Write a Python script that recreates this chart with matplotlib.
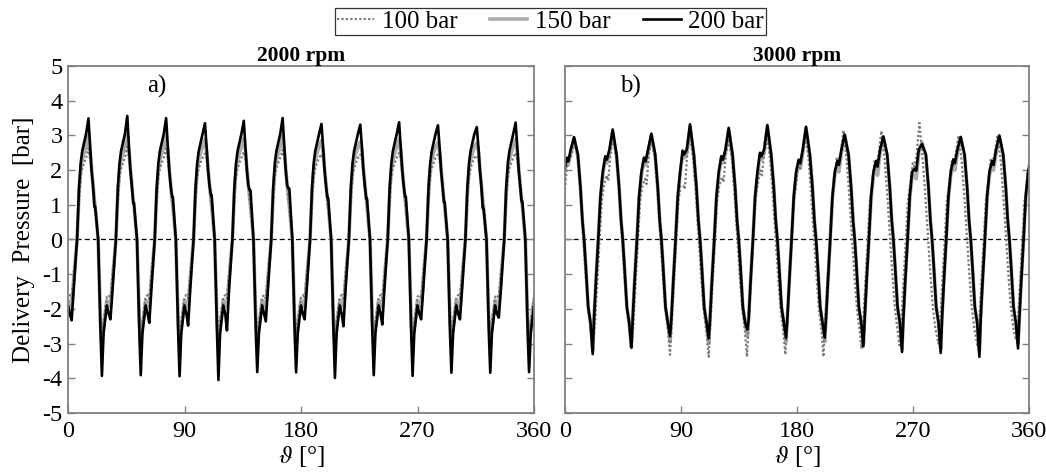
import numpy as np
import matplotlib
matplotlib.use('Agg')
import matplotlib.pyplot as plt
from matplotlib.lines import Line2D

plt.rcParams['font.family'] = ['Liberation Serif', 'DejaVu Serif']
plt.rcParams['mathtext.fontset'] = 'stix'
plt.rcParams['axes.unicode_minus'] = False

# ---------------------------------------------------------------
# a) 2000 rpm : one entry per pumping cycle (cycle starts at rising zero crossing)
# ---------------------------------------------------------------
A_START = [-23, 7, 37, 67, 97, 127, 157, 187, 217, 247, 277, 307, 337]
A_OFFS = [0, 1.5, 2.8, 4.0, 5.5, 7.0, 8.8, 10.2, 11.2, 12.3, 13.4, 14.0,
          16.3, 18.2, 19.2, 20.5, 23.0, 24.5, 25.8, 27.5]
A_SHAPE_200 = [0, 1.5, 2.2, 2.55, 2.8, 3.05, 'PK', 2.6, 2.0, 1.55, 'ST', 'ST',
               0, -2.8, 'TR', -2.7, -1.9, -2.15, 'SM', -1.4]
A_SHAPE_150 = [0, 1.3, 2.0, 2.3, 2.5, 2.68, 'PK', 2.5, 2.05, 1.6, 1.15, 0.95,
               0, -2.45, 'TR', -2.5, -1.75, -1.85, -1.95, -1.1]
A_SHAPE_100 = [0, 1.1, 1.8, 2.05, 2.22, 2.36, 'PK', 2.3, 1.95, 1.6, 1.15, 0.95,
               0, -2.2, 'TR', -2.35, -1.65, -1.6, -1.7, -0.95]

A_PEAK_200 = [3.40, 3.49, 3.56, 3.50, 3.35, 3.42, 3.50, 3.33, 3.31, 3.38, 3.29, 3.24, 3.37]
A_TROUGH_200 = [-3.90, -3.93, -3.91, -3.94, -4.05, -3.82, -3.83, -3.99, -3.91, -3.93, -3.84, -3.84, -3.82]
A_STEP_200 = [1.00, 0.94, 1.04, 1.23, 1.28, 1.42, 1.47, 1.20, 1.18, 1.23, 1.08, 0.90, 1.10]
A_SECMIN_200 = [-2.33, -2.30, -2.40, -2.48, -2.62, -2.36, -2.30, -2.50, -2.45, -2.30, -2.30, -2.25, -2.30]
A_PEAK_150 = [2.95, 3.00, 3.05, 3.00, 2.88, 2.92, 2.98, 2.85, 2.82, 2.88, 2.80, 2.78, 2.88]
A_TROUGH_150 = [-2.90, -2.95, -2.90, -2.95, -3.00, -2.85, -2.88, -3.00, -2.90, -2.95, -2.88, -2.90, -2.88]
A_PEAK_100 = [2.55, 2.62, 2.68, 2.62, 2.48, 2.52, 2.58, 2.46, 2.45, 2.50, 2.45, 2.42, 2.50]
A_TROUGH_100 = [-2.70, -2.72, -2.70, -2.74, -2.80, -2.65, -2.68, -2.78, -2.70, -2.74, -2.68, -2.70, -2.68]

# ---------------------------------------------------------------
# b) 3000 rpm : one entry per pumping cycle (cycle starts at the trough)
# ---------------------------------------------------------------
B_START = [-8.5, 21.5, 51.5, 81.5, 111.5, 141.5, 171.5, 201.5, 231.5, 261.5, 291.5, 321.5, 351.5]
B_OFFS = [0, 1.0, 2.5, 4.3, 6.0, 7.8, 9.8, 11.0, 13.0, 15.5, 18.5, 20.5,
          22.0, 23.3, 24.5, 26.5, 28.3]
B_SHAPE_200 = ['TR', -2.3, -1.2, 0, 1.25, 1.95, 'SH', 'DP', 2.6, 'PK', 2.45, 1.5,
               0.55, 0, -0.7, -1.95, -2.4]
B_SHAPE_150 = ['TR', -2.25, -1.15, 0, 1.2, 1.85, 'SH', 'DP', 2.5, 'PK', 2.4, 1.5,
               0.55, 0, -0.7, -1.95, -2.4]
B_OFFS_100 = [0, 1.2, 2.8, 4.8, 6.5, 8.2, 10.3, 11.5, 13.3, 15.5, 18.0, 20.0,
              22.3, 24.0, 26.0, 28.0]
B_SHAPE_100 = ['TR', -2.5, -1.4, 0, 1.1, 1.55, 'SH', 'DP', 2.45, 'PK', 2.3, 1.3,
               0, -1.0, -2.0, -2.6]

B_TROUGH_200 = [-3.20, -3.30, -3.12, -2.78, -2.85, -2.60, -2.83, -2.83, -3.08, -3.24, -3.27, -3.38, -3.14]
B_PEAK_200 = [2.95, 3.17, 3.05, 3.32, 3.22, 3.30, 3.25, 3.02, 2.97, 2.75, 2.95, 3.00, 3.00]
B_SHOULDER_200 = [2.35, 2.40, 2.36, 2.56, 2.40, 2.50, 2.30, 2.26, 2.26, 2.04, 2.31, 2.26, 2.30]
B_DIP_200 = [2.25, 2.30, 2.25, 2.45, 2.30, 2.40, 2.20, 2.15, 2.10, 1.98, 2.20, 2.15, 2.20]

B_TROUGH_150 = [-3.10, -3.20, -3.10, -2.95, -3.00, -2.80, -2.95, -2.95, -3.00, -3.15, -3.15, -3.20, -3.00]
B_PEAK_150 = [2.90, 3.10, 3.00, 3.25, 3.15, 3.25, 3.20, 3.00, 2.95, 2.80, 2.95, 2.95, 2.95]
B_SHOULDER_150 = [2.30, 2.35, 2.30, 2.50, 2.35, 2.45, 2.25, 2.15, 2.10, 1.95, 2.20, 2.15, 2.20]
B_DIP_150 = [2.15, 2.20, 2.15, 2.35, 2.20, 2.30, 2.05, 1.95, 1.85, 1.75, 2.00, 2.00, 2.05]

B_TROUGH_100 = [-2.90, -2.90, -3.10, -3.32, -3.38, -3.38, -3.32, -3.38, -3.15, -3.05, -3.00, -3.05, -2.90]
B_PEAK_100 = [2.95, 3.00, 2.90, 3.00, 2.90, 3.00, 3.05, 3.15, 3.13, 3.36, 2.95, 3.00, 3.00]
B_SHOULDER_100 = [2.40, 1.85, 1.75, 1.55, 1.80, 2.00, 2.20, 2.36, 2.30, 2.20, 2.25, 2.30, 2.30]
B_DIP_100 = [2.30, 1.70, 1.60, 1.45, 1.65, 1.85, 2.05, 2.25, 2.20, 2.10, 2.15, 2.20, 2.20]
B_SHIFT_100 = [0.5, 0.5, 0.3, 0.0, 0.0, -0.3, -0.5, -1.0, -1.5, -2.0, -1.8, -1.5, -1.5]

LABELS = ['100 bar', '150 bar', '200 bar']
TITLES = ['2000 rpm', '3000 rpm']
XTICKS = [0, 90, 180, 270, 360]
YTICKS = list(range(-5, 6))

STYLE = {
    '100 bar': dict(color='#7a7a7a', lw=1.6, ls=(0, (1, 1))),
    '150 bar': dict(color='#ababab', lw=2.6, ls='-'),
    '200 bar': dict(color='black', lw=1.9, ls='-'),
}
SPINE = '#808080'


def build(starts, offs, shape, feats, shift=None):
    """周期ごとの読み取り値を折れ線に並べる"""
    th, p = [], []
    for k, t0 in enumerate(starts):
        s = t0 + (shift[k] if shift else 0.0)
        for r, v in zip(offs, shape):
            th.append(s + r)
            p.append(feats[v][k] if isinstance(v, str) else v)
    return np.array(th), np.array(p)


series_a = {
    '150 bar': build(A_START, A_OFFS, A_SHAPE_150, dict(PK=A_PEAK_150, TR=A_TROUGH_150)),
    '100 bar': build(A_START, A_OFFS, A_SHAPE_100, dict(PK=A_PEAK_100, TR=A_TROUGH_100)),
    '200 bar': build(A_START, A_OFFS, A_SHAPE_200,
                     dict(PK=A_PEAK_200, TR=A_TROUGH_200, ST=A_STEP_200, SM=A_SECMIN_200)),
}
series_b = {
    '150 bar': build(B_START, B_OFFS, B_SHAPE_150,
                     dict(PK=B_PEAK_150, TR=B_TROUGH_150, SH=B_SHOULDER_150, DP=B_DIP_150)),
    '100 bar': build(B_START, B_OFFS_100, B_SHAPE_100,
                     dict(PK=B_PEAK_100, TR=B_TROUGH_100, SH=B_SHOULDER_100, DP=B_DIP_100),
                     shift=B_SHIFT_100),
    '200 bar': build(B_START, B_OFFS, B_SHAPE_200,
                     dict(PK=B_PEAK_200, TR=B_TROUGH_200, SH=B_SHOULDER_200, DP=B_DIP_200)),
}

fig = plt.figure(figsize=(10.46, 4.73), dpi=100)
ax_a = fig.add_axes([68 / 1046, 60 / 473, 466 / 1046, 347 / 473])
ax_b = fig.add_axes([565 / 1046, 60 / 473, 464 / 1046, 347 / 473])

for ax, data, title, tag, tag_x in [(ax_a, series_a, TITLES[0], 'a)', 61),
                                    (ax_b, series_b, TITLES[1], 'b)', 43)]:
    ax.axhline(0, color='black', lw=0.9, ls=(0, (4, 2.5)), zorder=1)
    for name, (th, p) in data.items():
        ax.plot(th, p, solid_joinstyle='round', zorder=2, **STYLE[name])
    ax.set_xlim(0, 360)
    ax.set_ylim(-5, 5)
    ax.set_xticks(XTICKS)
    ax.set_yticks(YTICKS)
    ax.tick_params(axis='both', direction='in', length=5, width=1, color=SPINE,
                   labelsize=17.5)
    ax.tick_params(axis='x', pad=6)
    ax.tick_params(axis='y', right=True, pad=4)
    for sp in ax.spines.values():
        sp.set_color(SPINE)
        sp.set_linewidth(1.3)
    ax.set_title(title, fontsize=15.5, fontweight='bold', pad=3)
    ax.text(tag_x, 4.4, tag, fontsize=18, va='center', ha='left')
    ax.set_xlabel(r'$\vartheta$ [°]', fontsize=18, va='center')
    ax.xaxis.set_label_coords(0.5, -0.125)

ax_b.tick_params(axis='y', labelleft=False)
ax_a.set_ylabel('Delivery  Pressure  [bar]', fontsize=18, va='center')
ax_a.yaxis.set_label_coords(-0.095, 0.5)

handles = [Line2D([], [], **STYLE[n]) for n in LABELS]
leg = fig.legend(handles, LABELS, loc='center', bbox_to_anchor=(0.526, 0.955),
                 ncol=3, fontsize=18, frameon=True, fancybox=False,
                 edgecolor='black', borderpad=0.08, handlelength=1.5,
                 handletextpad=0.3, columnspacing=1.3)
leg.get_frame().set_linewidth(0.9)

fig.savefig('out.png', dpi=100, facecolor='white')
